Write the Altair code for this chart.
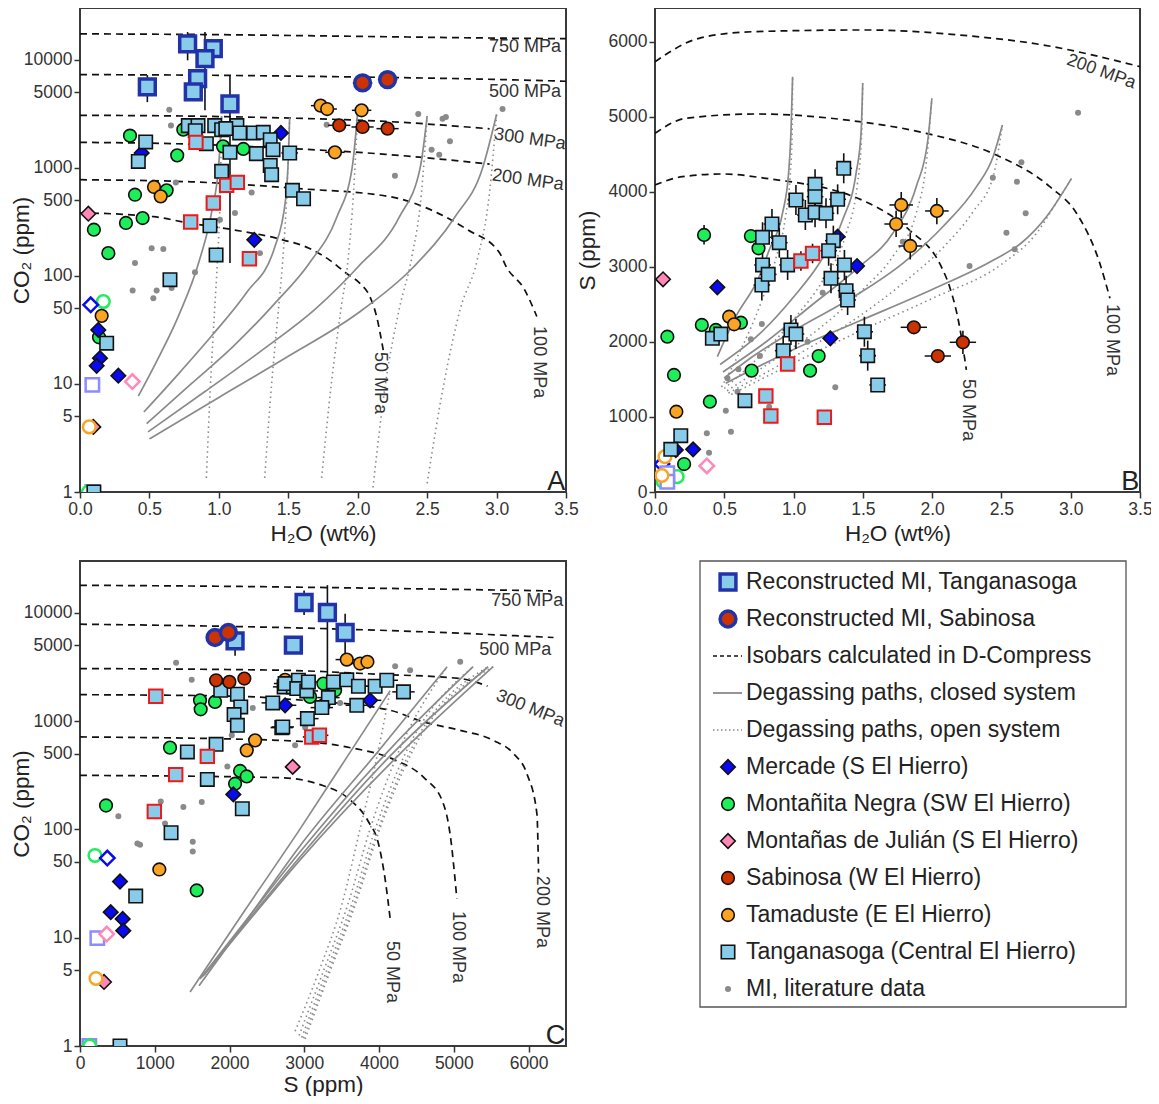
import altair as alt
import pandas as pd

FONT = "Liberation Sans"

# ======================= Panel A : CO2 (ppm) vs H2O (wt%) =======================
A_lit = [(0.643,3444),(0.655,2450),(0.69,731),(1.236,591),(1.116,381),(1.008,330),(0.516,180),(0.60,177),
         (1.296,162),(0.396,131),(0.379,73),(0.552,73),(0.528,62),(0.66,77),(0.828,108),(1.776,2500),
         (2.436,3141),(2.611,2843),(2.635,2945),(2.664,1752),(2.532,1468),(2.587,1318),(2.268,843),(3.043,3490)]
A_tang = [(0.473,1730),(0.42,1143),(0.78,2449),(0.85,2449),(0.91,1668),(0.97,2449),(1.02,2248),(1.08,1386),
          (1.13,2449),(1.15,2095),(1.25,2095),(1.32,2125),(1.37,1815),(1.39,1468),(1.51,1368),(1.27,1349),
          (1.02,925),(1.37,1050),(1.38,861),(0.936,290),(0.98,156),(1.53,617),(1.61,516),(0.648,92),
          (0.192,23.8),(0.1,1.0),(0.83,2200),(1.05,2300)]
A_tang_rec = [(0.775,13970),(0.96,12650),(0.90,10210),(0.847,6670),(0.816,5020),(0.485,5590),(1.08,3890)]
A_tang_red = [(0.835,1715),(1.056,686),(1.133,731),(0.96,471),(0.797,314),(1.22,144)]
A_sab = [(1.867,2465),(2.035,2380),(2.215,2297)]
A_sab_rec = [(2.035,6080),(2.215,6530)]
A_tam = [(1.733,3750),(1.78,3490),(2.028,3394),(1.836,1387),(0.533,663),(0.581,543),(0.156,42.6)]
A_tam_open = [(0.067,4.0)]
A_mer = [(1.447,2095),(0.444,1368),(1.255,215),(0.132,31.6),(0.144,17.3),(0.12,14.7),(0.276,11.9)]
A_mer_open = [(0.077,53.9)]
A_mon = [(0.36,1978),(0.70,1300),(0.396,562),(0.624,617),(0.451,342),(0.331,308),(0.10,267),(0.204,162),
         (0.744,2248),(1.03,1575),(1.176,1490),(0.137,27)]
A_mon_open = [(0.168,57.8),(0.06,1.0)]
A_jul = [(0.06,375),(0.096,4.0)]
A_jul_open = [(0.377,10.5)]
A_pur_open = [(0.089,9.8),(0.089,1.0)]
# horizontal error bars (x, y, half width) and vertical ones (x, low, high)
A_xerr = [(1.867,2465,0.08),(2.035,2380,0.08),(2.215,2297,0.08),(2.035,6080,0.07),(2.215,6530,0.07),
          (1.733,3750,0.07),(1.78,3490,0.07),(2.028,3394,0.07),(1.836,1387,0.07),(1.51,1368,0.06),
          (1.53,617,0.05),(1.61,516,0.05),(1.25,2095,0.05),(1.37,1815,0.05),(1.02,925,0.04),(1.38,861,0.04)]
A_yerr = [(0.775,9840,17960),(0.90,3390,17960),(0.485,4040,7180),(1.08,131,7180)]

A_iso = {
    "750": [(0,17300),(1.0,17000),(2.0,16400),(3.0,15800),(3.5,15600)],
    "500": [(0,7260),(1.0,7150),(2.0,6900),(3.0,6550),(3.5,6300)],
    "300": [(0,3050),(0.8,3000),(1.44,2890),(2.2,2680),(2.95,2290)],
    "200": [(0,1715),(0.8,1650),(1.44,1520),(2.2,1330),(2.95,1080)],
    "100": [(0,774),(0.8,740),(1.58,640),(2.23,540),(2.57,384),(2.79,267),(3.02,164),(3.07,121),(3.2,75),(3.29,42)],
    "50": [(0,383),(0.53,352),(0.77,310),(1.10,267),(1.46,215),(1.65,180),(1.80,139),(1.92,105),(2.016,85),
           (2.088,64),(2.136,42),(2.184,20.5)],
}
A_closed = {
    "c1": [(0.42,7.7),(0.55,16),(0.7,40),(0.86,139),(0.95,400),(1.0,1100),(1.02,3000)],
    "c2": [(0.46,5.5),(0.7,12),(0.95,28),(1.2,70),(1.4,180),(1.48,500),(1.5,1200),(1.51,2900)],
    "c3": [(0.48,4.3),(0.8,10),(1.1,22),(1.4,55),(1.65,130),(1.85,350),(1.96,1000),(2.0,3300)],
    "c4": [(0.49,3.6),(0.9,8.5),(1.3,20),(1.7,50),(2.0,120),(2.3,350),(2.45,1000),(2.5,3000)],
    "c5": [(0.5,3.1),(1.0,7.5),(1.5,18),(2.0,45),(2.4,120),(2.7,350),(2.9,1000),(3.0,3100)],
}
A_open = {
    "o1": [(0.91,1.35),(0.94,10),(0.97,50),(0.99,139),(1.01,600),(1.02,3000)],
    "o2": [(1.33,1.35),(1.38,10),(1.43,50),(1.46,139),(1.49,600),(1.51,2900)],
    "o3": [(1.74,1.35),(1.81,10),(1.88,50),(1.93,139),(1.97,600),(2.0,3300)],
    "o4": [(2.11,1.1),(2.2,10),(2.3,50),(2.39,150),(2.46,600),(2.5,3000)],
    "o5": [(2.5,1.2),(2.62,10),(2.74,50),(2.86,139),(2.95,600),(3.0,3100)],
}
A_labels = [(3.204,12970,"750 MPa",0),(3.204,4976,"500 MPa",0),(3.24,1830,"300 MPa",8),
            (3.225,765,"200 MPa",8),(2.16,10.2,"50 MPa",90),(3.307,15.9,"100 MPa",90)]

# ======================= Panel B : S (ppm) vs H2O (wt%) =======================
B_lit = [(1.21,2657),(0.771,2240),(0.692,2036),(0.757,1813),(0.602,1636),(0.523,1516),(0.595,1337),
         (0.511,1084),(0.374,782),(0.548,804),(0.39,524),(1.301,1396),(1.101,2004),(0.824,1137),
         (3.053,5057),(2.644,4396),(2.612,4137),(2.438,4191),(2.675,3716),(2.536,3457),(2.596,3236),
         (1.788,3337),(2.27,3013)]
B_tang = [(1.362,4316),(1.017,3893),(1.155,4102),(1.155,3937),(1.318,3902),(1.085,3693),(1.155,3729),
          (1.234,3716),(0.844,3573),(0.776,3396),(0.897,3324),(1.287,3351),(1.253,3217),(1.367,3027),
          (0.957,3027),(0.776,3027),(0.771,2760),(0.817,2902),(1.27,2849),(1.379,2684),(1.39,2560),
          (0.981,2160),(1.017,2106),(0.925,1884),(1.511,2137),(1.535,1818),(0.414,2049),(0.475,2106),
          (0.649,1218),(0.186,751),(0.114,569),(1.607,1427)]
B_tang_red = [(1.053,3080),(1.137,3182),(0.957,1707),(0.80,1280),(0.836,1013),(1.222,996)]
B_mer = [(0.15,560),(0.45,2729),(1.458,3013),(1.265,2049),(0.275,569),(1.318,3404)]
B_mer_open = [(0.05,373)]
B_mon = [(0.354,3427),(0.692,3413),(0.747,3249),(0.089,2071),(0.137,1560),(0.338,2227),(0.439,2160),
         (0.62,2257),(0.697,1618),(1.181,1813),(1.119,1618),(0.396,1204),(0.21,373)]
B_mon_open = [(0.16,204),(0.06,137)]
B_tam = [(0.535,2337),(0.571,2236),(0.154,1071),(1.777,3827),(2.034,3747),(1.74,3573),(1.842,3280)]
B_tam_open = [(0.05,220),(0.072,471)]
B_sab = [(1.868,2196),(2.041,1813),(2.222,1996)]
B_jul = [(0.058,2836)]
B_jul_open = [(0.374,347)]
B_pur_open = [(0.089,249),(0.089,137)]
B_xerr = [(x, y, 0.06) for x, y in B_tang[:26]] + [(1.777,3827,0.085),(2.034,3747,0.085),(1.74,3573,0.085),
          (1.842,3280,0.085),(1.868,2196,0.095),(2.041,1813,0.095),(2.222,1996,0.095),(1.511,2137,0.06),
          (1.535,1818,0.06),(1.607,1427,0.06),(1.222,996,0.04)]
B_yerr = [(x, y - 200, y + 200) for x, y in B_tang[:26]] + [(1.777,3650,4000),(2.034,3570,3920),(1.74,3400,3750),
          (1.842,3100,3460),(2.222,1840,2150),(0.354,3300,3560),(1.053,2950,3210),(1.137,3050,3310)]

B_iso = {
    "200": [(0,5737),(0.318,6049),(0.704,6137),(1.52,6160),(2.198,6093),(2.8,5960),(3.5,5671)],
    "100": [(0,4782),(0.222,4982),(0.728,5040),(1.475,4937),(1.957,4782),(2.463,4493),(2.849,4071),
            (3.042,3716),(3.21,3049),(3.283,2582)],
    "50": [(0,4093),(0.197,4204),(0.487,4240),(0.80,4182),(1.52,3870),(1.836,3493),(2.066,3004),
           (2.126,2737),(2.198,2204),(2.247,1627)],
}
B_closed = {
    "c1": [(0.45,1804),(0.583,2337),(0.752,2871),(0.824,3227),(0.92,3716),(0.964,4249),(0.981,4782),(0.993,5537)],
    "c2": [(0.47,1700),(0.75,2100),(1.0,2600),(1.186,3049),(1.354,3627),(1.451,4249),(1.487,4782),(1.499,5449)],
    "c3": [(0.49,1600),(0.8,2000),(1.137,2500),(1.475,3004),(1.716,3449),(1.885,4071),(1.969,4693),(1.998,5248)],
    "c4": [(0.5,1520),(0.7,1800),(1.0,2150),(1.475,2649),(1.788,3049),(2.077,3537),(2.32,4071),(2.44,4471),(2.507,4893)],
    "c5": [(0.51,1450),(1.0,1900),(1.475,2280),(2.0,2700),(2.44,3090),(2.65,3330),(2.825,3671),(3.006,4182)],
}
B_open = {
    "o1": [(0.48,1400),(0.62,1900),(0.76,2500),(0.87,3100),(0.94,3650),(0.975,4200),(0.99,4800),(0.993,5537)],
    "o2": [(0.5,1380),(0.75,1800),(1.0,2300),(1.22,2850),(1.38,3450),(1.46,4100),(1.49,4700),(1.499,5449)],
    "o3": [(0.52,1350),(0.85,1750),(1.2,2200),(1.5,2700),(1.72,3150),(1.885,3716),(1.96,4426),(1.998,5248)],
    "o4": [(0.53,1320),(1.0,1800),(1.4,2250),(1.8,2800),(2.1,3300),(2.3,3750),(2.44,4204),(2.507,4893)],
    "o5": [(0.55,1300),(1.0,1720),(1.52,2180),(2.0,2580),(2.51,3049),(2.753,3449),(2.897,3860),(3.006,4182)],
}
B_labels = [(3.22,5603,"200 MPa",20),(3.30,2027,"100 MPa",90),(2.257,1093,"50 MPa",90)]

# ======================= Panel C : CO2 (ppm) vs S (ppm) =======================
C_lit = [(1285,3442),(1494,2400),(2311,1322),(2030,738),(2877,596),(1971,381),(1080,181),(1383,161),
         (1628,179),(513,132),(767,74),(803,72),(1508,77),(1508,62.5),(1137,113),(4215,3206),(4415,2943),
         (5085,3518),(3479,1470),(3011,869)]
C_tang = [(1882,1922),(2105,1766),(2150,1350),(2061,1146),(2105,912),(1820,609),(1436,518),(1703,289),
          (2171,155),(2578,1470),(2699,869),(2730,2066),(2854,2066),(2743,2218),(2921,2378),(2899,1991),
          (3033,1896),(3055,2297),(3389,2297),(3568,2400),(3724,2094),(3947,2094),(4103,2378),(4326,1858),
          (3322,1645),(3234,1330),(3702,1397),(3041,1052),(2712,882),(1218,93),(745,24.2),(535,1.0)]
C_tang_rec = [(2074,5500),(2854,5010),(2997,12420),(3309,10040),(3546,6560)]
C_tang_red = [(1013,1691),(1703,472),(1280,320),(994,146),(3100,713),(3202,738)]
C_sab = [(1820,2378),(1998,2297),(2198,2466)]
C_sab_rec = [(1806,5900),(1984,6560)]
C_tam = [(3568,3690),(3746,3394),(3844,3518),(2342,663),(2230,536),(2743,2400),(3255,1397),(1061,42.6)]
C_tam_open = [(214,4.2)]
C_mer = [(2743,1397),(2051,210),(3880,1553),(535,33),(411,17.2),(571,14.9),(579,11.6)]
C_mer_open = [(365,54.3)]
C_mon = [(1204,568),(1605,1553),(1614,1283),(1806,1501),(2141,346),(2230,308),(2074,264),(348,166),
         (3255,2218),(3412,1922),(3077,1670),(1561,27.3)]
C_mon_open = [(200,57.4),(130,1.0)]
C_jul = [(2845,377),(321,3.9)]
C_jul_open = [(357,10.8)]
C_pur_open = [(232,9.9),(125,1.0)]
C_xerr = [(x, y, 150) for x, y in C_tang[9:29]] + [(3568,3690,150),(3746,3394,150),(2743,1397,150),(3880,1553,150),
          (3100,713,120),(3202,738,120),(2074,5500,120),(2854,5010,120),(2997,12420,120),(3309,10040,120),(3546,6560,120)]
C_yerr = [(3309,1553,17960),(2997,9500,16000),(3546,3400,9800),(2074,4000,6500)]

C_iso = {
    "750": [(0,17900),(2000,17500),(4000,16800),(6300,15900)],
    "500": [(0,7830),(2676,7300),(4500,6700),(6333,5900)],
    "300": [(0,3050),(2676,2943),(4000,2700),(5085,2466),(5450,2100)],
    "200": [(0,1750),(2000,1700),(3000,1550),(4148,1256),(4593,982),(5085,820),(5530,663),(5798,500),
            (5977,326),(6111,139),(6133,40)],
    "100": [(0,713),(2676,663),(3600,570),(4200,440),(4600,300),(4850,180),(4950,90),(5040,23)],
    "50": [(0,315),(2676,300),(3200,260),(3600,190),(3850,120),(4000,70),(4080,35),(4148,15)],
}
C_closed = {
    "c1": [(1472,3.15),(2208,18),(2944,101),(3546,438),(4148,1905)],
    "c2": [(1592,3.6),(2300,17),(2944,70.6),(4014,551),(4910,3170)],
    "c3": [(1606,4.16),(2300,17),(2944,62),(4148,551),(5258,3170)],
    "c4": [(1632,4.34),(2300,16),(2944,55.8),(4215,530),(5459,3170)],
    "c5": [(1659,4.5),(2300,15.5),(2944,52.3),(4282,500),(5526,3170)],
}
C_open = {
    "o1": [(2877,1.37),(3200,5),(3500,20),(3746,101),(3950,400),(4148,1905)],
    "o2": [(2930,1.25),(3260,5),(3580,20),(3880,101),(4250,500),(4910,3170)],
    "o3": [(2966,1.2),(3300,5),(3630,20),(3950,101),(4350,500),(5258,3170)],
    "o4": [(2990,1.18),(3330,5),(3660,20),(3990,101),(4400,500),(5459,3170)],
    "o5": [(3011,1.16),(3350,5),(3680,20),(4010,101),(4430,500),(5526,3170)],
}
C_labels = [(5981,12700,"750 MPa",0),(5820,4570,"500 MPa",0),(6021,1302,"300 MPa",22),
            (6181,17.3,"200 MPa",90),(5057,8.2,"100 MPa",90),(4174,4.83,"50 MPa",90)]

# ======================= Legend =======================
LEG_TEXT = ["Reconstructed MI, Tanganasoga", "Reconstructed MI, Sabinosa", "Isobars calculated in D-Compress",
            "Degassing paths, closed system", "Degassing paths, open system", "Mercade (S El Hierro)",
            "Montañita Negra (SW El Hierro)", "Montañas de Julián (S El Hierro)", "Sabinosa (W El Hierro)",
            "Tamaduste (E El Hierro)", "Tanganasoga (Central El Hierro)", "MI, literature data"]

# ---------------- styles ----------------
SKY = "#88CCEA"; DARKBLUE = "#2233AA"; RED = "#CC3300"; BLUE = "#0A0AEE"; GREEN = "#1EEE5A"
PINK = "#FF88B8"; ORANGE = "#FBA424"; GREY = "#8A8A8A"; PURPLE = "#8C8CFF"; REDEDGE = "#EE1A1A"

STY = {
    "tang": dict(shape="square", fill=SKY, stroke="#111", size=180, strokeWidth=1.6),
    "tang_red": dict(shape="square", fill=SKY, stroke=REDEDGE, size=180, strokeWidth=2),
    "tang_rec": dict(shape="square", fill=SKY, stroke=DARKBLUE, size=250, strokeWidth=3.5),
    "sab": dict(shape="circle", fill=RED, stroke="#111", size=160, strokeWidth=1.6),
    "sab_rec": dict(shape="circle", fill=RED, stroke=DARKBLUE, size=250, strokeWidth=3.5),
    "tam": dict(shape="circle", fill=ORANGE, stroke="#111", size=160, strokeWidth=1.6),
    "tam_open": dict(shape="circle", fill="white", stroke=ORANGE, size=160, strokeWidth=2.5),
    "mer": dict(shape="diamond", fill=BLUE, stroke="#111", size=210, strokeWidth=1.6),
    "mer_open": dict(shape="diamond", fill="white", stroke=BLUE, size=210, strokeWidth=2.5),
    "mon": dict(shape="circle", fill=GREEN, stroke="#111", size=160, strokeWidth=1.6),
    "mon_open": dict(shape="circle", fill="white", stroke=GREEN, size=160, strokeWidth=2.5),
    "jul": dict(shape="diamond", fill=PINK, stroke="#111", size=210, strokeWidth=1.6),
    "jul_open": dict(shape="diamond", fill="white", stroke=PINK, size=210, strokeWidth=2.5),
    "pur_open": dict(shape="square", fill="white", stroke=PURPLE, size=180, strokeWidth=2.5),
    "lit": dict(shape="circle", fill=GREY, stroke=GREY, size=36, strokeWidth=0),
}


def make_xy(dom_x, xvals, xfmt, xtitle, xtp, xlp, ylog, dom_y, yvals, yfmt, ytitle, ytx):
    xs = alt.X("x:Q", scale=alt.Scale(domain=dom_x, nice=False, zero=False),
               axis=alt.Axis(values=xvals, format=xfmt, title=xtitle, titlePadding=xtp, labelPadding=xlp))
    ysc = alt.Scale(type="log", domain=dom_y, nice=False) if ylog else alt.Scale(domain=dom_y, nice=False, zero=False)
    ys = alt.Y("y:Q", scale=ysc, axis=alt.Axis(values=yvals, format=yfmt, title=ytitle, titleX=ytx))
    return xs, ys


def pts(rows, key, xs, ys):
    df = pd.DataFrame(rows, columns=["x", "y"])
    st = STY[key]
    return alt.Chart(df).mark_point(filled=True, opacity=1, fillOpacity=1, strokeOpacity=1, clip=True,
                                    **st).encode(x=xs, y=ys)


def curves(d, xs, ys, color, width, dash=None):
    rows = []
    for name, p in d.items():
        for i, (x, y) in enumerate(p):
            rows.append({"x": x, "y": y, "g": name, "i": i})
    mk = dict(clip=True, color=color, strokeWidth=width, interpolate="monotone")
    if dash:
        mk["strokeDash"] = dash
    return alt.Chart(pd.DataFrame(rows)).mark_line(**mk).encode(x=xs, y=ys, detail="g:N", order="i:Q")


def xerrs(rows, xs, ys):
    df = pd.DataFrame([{"x": x - d, "x2": x + d, "y": y} for x, y, d in rows])
    return alt.Chart(df).mark_rule(color="#111", strokeWidth=1.5, clip=True).encode(
        x=xs, x2="x2:Q", y=ys)


def yerrs(rows, xs, ys):
    df = pd.DataFrame([{"x": x, "y": lo, "y2": hi} for x, lo, hi in rows])
    return alt.Chart(df).mark_rule(color="#111", strokeWidth=1.6, clip=True).encode(
        x=xs, y=ys, y2="y2:Q")


def labels(rows, xs, ys):
    out = []
    for x, y, t, a in rows:
        df = pd.DataFrame([{"x": x, "y": y, "t": t}])
        kw = dict(fontSize=18, font=FONT, color="#333", align="center", baseline="middle")
        if a:
            kw["angle"] = a
        out.append(alt.Chart(df).mark_text(**kw).encode(x=xs, y=ys, text="t:N"))
    return out


def letter(x, y, t, xs, ys):
    df = pd.DataFrame([{"x": x, "y": y, "t": t}])
    return alt.Chart(df).mark_text(fontSize=27, font=FONT, color="#222", align="center",
                                   baseline="middle").encode(x=xs, y=ys, text="t:N")


def panel(xs, ys, iso, closed, openp, lit, groups, xe, ye, lab, let, w, h):
    layers = [curves(iso, xs, ys, "#111", 1.7, [7, 5]),
              curves(closed, xs, ys, "#8a8a8a", 1.7),
              curves(openp, xs, ys, "#8a8a8a", 1.6, [1.5, 3.5]),
              pts(lit, "lit", xs, ys)]
    if xe:
        layers.append(xerrs(xe, xs, ys))
    if ye:
        layers.append(yerrs(ye, xs, ys))
    for rows, key in groups:
        if rows:
            layers.append(pts(rows, key, xs, ys))
    layers += labels(lab, xs, ys)
    layers.append(letter(let[0], let[1], let[2], xs, ys))
    return alt.layer(*layers).properties(width=w, height=h)


CO2_VALS = [1, 5, 10, 50, 100, 500, 1000, 5000, 10000]
H2O_VALS = [0, 0.5, 1.0, 1.5, 2.0, 2.5, 3.0, 3.5]

xA, yA = make_xy([0, 3.5], H2O_VALS, ".1f", "H₂O (wt%)", 5, 2, True, [1, 30000], CO2_VALS, "d", "CO₂ (ppm)", -47)
xB, yB = make_xy([0, 3.5], H2O_VALS, ".1f", "H₂O (wt%)", 5, 2, False, [0, 6453], [0, 1000, 2000, 3000, 4000, 5000, 6000], "d", "S (ppm)", -56)
xC, yC = make_xy([0, 6500], [0, 1000, 2000, 3000, 4000, 5000, 6000], "d", "S (ppm)", 2, 2, True, [1, 30000], CO2_VALS, "d", "CO₂ (ppm)", -47)

groupsA = [(A_jul, "jul"), (A_tam_open, "tam_open"), (A_pur_open, "pur_open"), (A_mon_open, "mon_open"),
           (A_mer_open, "mer_open"), (A_jul_open, "jul_open"), (A_mon, "mon"), (A_mer, "mer"), (A_tang, "tang"),
           (A_tang_red, "tang_red"), (A_tam, "tam"), (A_sab, "sab"), (A_tang_rec, "tang_rec"), (A_sab_rec, "sab_rec")]
groupsB = [(B_mer_open, "mer_open"), (B_mon_open, "mon_open"), (B_pur_open, "pur_open"), (B_tam_open, "tam_open"),
           (B_jul_open, "jul_open"), (B_jul, "jul"), (B_mon, "mon"), (B_tam, "tam"), (B_mer, "mer"), (B_tang, "tang"),
           (B_tang_red, "tang_red"), (B_sab, "sab")]
groupsC = [(C_jul, "jul"), (C_tam_open, "tam_open"), (C_pur_open, "pur_open"), (C_mon_open, "mon_open"),
           (C_mer_open, "mer_open"), (C_jul_open, "jul_open"), (C_mon, "mon"), (C_mer, "mer"), (C_tam, "tam"),
           (C_tang, "tang"), (C_tang_red, "tang_red"), (C_sab, "sab"), (C_tang_rec, "tang_rec"), (C_sab_rec, "sab_rec")]

chartA = panel(xA, yA, A_iso, A_closed, A_open, A_lit, groupsA, A_xerr, A_yerr, A_labels, (3.43, 1.24, "A"), 486, 484)
chartB = panel(xB, yB, B_iso, B_closed, B_open, B_lit, groupsB, B_xerr, B_yerr, B_labels, (3.43, 133, "B"), 485, 484)
chartC = panel(xC, yC, C_iso, C_closed, C_open, C_lit, groupsC, C_xerr, C_yerr, C_labels, (6360, 1.24, "C"), 486, 485)

# ---------------- legend panel (sits in the grid cell below panel B) ----------------
LW, LH = 470, 446
BOX = (45, 471)                     # frame of the key, in the key's own x units
ROW0, ROWSTEP = 21, 37
lx = alt.X("x:Q", scale=alt.Scale(domain=[0, LW + 1], nice=False), axis=None)
ly = alt.Y("r:Q", scale=alt.Scale(domain=[-ROW0 / ROWSTEP, (LH - ROW0) / ROWSTEP], reverse=True, nice=False), axis=None)
leg_sym_keys = {0: "tang_rec", 1: "sab_rec", 5: "mer", 6: "mon", 7: "jul", 8: "sab", 9: "tam", 10: "tang", 11: "lit"}
leg_layers = [alt.Chart(pd.DataFrame({"x": [BOX[0]], "x2": [BOX[1]], "r": [-ROW0 / ROWSTEP],
                                      "r2": [(LH - ROW0) / ROWSTEP]})).mark_rect(
    fillOpacity=0, stroke="#555", strokeWidth=1.3).encode(x=lx, x2="x2:Q", y=ly, y2="r2:Q")]
txt_df = pd.DataFrame({"x": [BOX[0] + 46] * len(LEG_TEXT), "r": list(range(len(LEG_TEXT))), "t": LEG_TEXT})
for r, key in leg_sym_keys.items():
    st = dict(STY[key])
    leg_layers.append(alt.Chart(pd.DataFrame({"x": [BOX[0] + 28], "r": [r]})).mark_point(
        filled=True, opacity=1, **st).encode(x=lx, y=ly))
line_styles = {2: dict(color="#111", strokeDash=[4, 3], strokeWidth=1.7),
               3: dict(color="#8a8a8a", strokeWidth=1.8),
               4: dict(color="#8a8a8a", strokeDash=[1.5, 2.5], strokeWidth=1.6)}
for r, st in line_styles.items():
    leg_layers.append(alt.Chart(pd.DataFrame({"x": [BOX[0] + 13], "x2": [BOX[0] + 42], "r": [r]})).mark_rule(**st).encode(
        x=lx, x2="x2:Q", y=ly))
leg_layers.append(alt.Chart(txt_df).mark_text(fontSize=23, font=FONT, color="#222", align="left",
                                              baseline="middle").encode(x=lx, y=ly, text="t:N"))
legend = alt.layer(*leg_layers).properties(width=LW + 1, height=LH,
                                           view=alt.ViewBackground(stroke="transparent", strokeWidth=0))

chart = alt.concat(chartA, chartB, chartC, legend, columns=2, bounds="flush",
                   spacing={"row": 69, "column": 89}).configure_axis(
    labelFont=FONT, labelFontSize=17.5, labelColor="#333", titleFont=FONT, titleFontSize=22.5,
    titleFontWeight="normal", titleColor="#222", tickColor="#333", tickSize=6, tickWidth=1.5,
    domain=False, grid=False, labelFlush=False
).configure_view(stroke="#3a3a3a", strokeWidth=2).properties(
    autosize=alt.AutoSizeParams(type="none"),
    padding={"left": 72, "top": 0, "right": 1071, "bottom": 1088})

chart.save("out.html", embed_options={"renderer": "svg", "actions": False})
